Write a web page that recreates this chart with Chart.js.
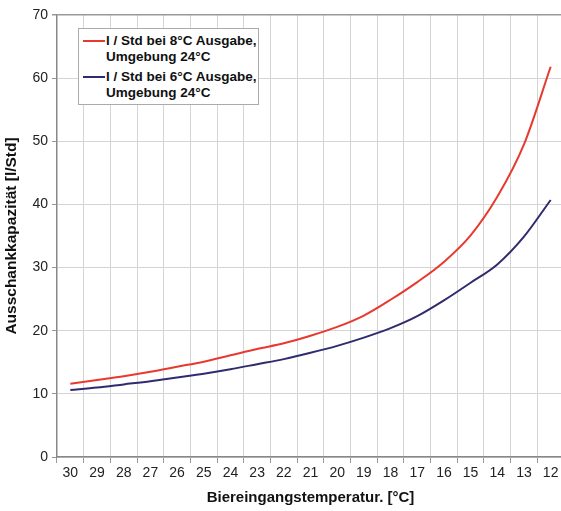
<!DOCTYPE html>
<html>
<head>
<meta charset="utf-8">
<script src="https://cdn.jsdelivr.net/npm/chart.js@4.4.1/dist/chart.umd.min.js"></script>
<style>
  body { margin: 0; background: #fff; overflow: hidden; }
  #wrap { position: relative; width: 561px; height: 511px; overflow: hidden; }
  #legend {
    position: absolute; left: 78px; top: 28px; width: 179px;
    background: #fff; border: 1px solid #aaa;
    font-family: "Liberation Sans", Arial, sans-serif; font-weight: bold;
    font-size: 13.5px; line-height: 16px; color: #111; padding: 3px 0 3px 0;
  }
  #legend .item { position: relative; padding-left: 27px; margin: 1px 0 4px 0; white-space: nowrap; }
  #legend .item:last-child { margin-bottom: 0; }
  #legend .sw { position: absolute; left: 4px; top: 7px; width: 22px; height: 2px; }
</style>
</head>
<body>
<div id="wrap">
  <canvas id="c" width="564" height="511"></canvas>
  <div id="legend"></div>
</div>
<script>
// Biereingangstemperatur [°C]
var categories = ['30','29','28','27','26','25','24','23','22','21','20','19','18','17','16','15','14','13','12'];
// l / Std bei 8°C Ausgabe
var ausgabe8 = [11.6, 12.2, 12.8, 13.5, 14.3, 15.1, 16.1, 17.1, 18.0, 19.2, 20.6, 22.4, 24.9, 27.7, 30.9, 35.1, 41.2, 49.5, 61.8];
// l / Std bei 6°C Ausgabe
var ausgabe6 = [10.6, 11.0, 11.5, 12.0, 12.6, 13.2, 13.9, 14.7, 15.5, 16.5, 17.6, 18.9, 20.4, 22.3, 24.8, 27.6, 30.5, 34.9, 40.7];
var seriesLabels = [
  ['l / Std bei 8°C Ausgabe,', 'Umgebung 24°C'],
  ['l / Std bei 6°C Ausgabe,', 'Umgebung 24°C']
];
var seriesColors = ['#e8392f', '#2f2b6e'];

var fontFam = '"Liberation Sans", Arial, sans-serif';

var ctx = document.getElementById('c').getContext('2d');
var chart = new Chart(ctx, {
  type: 'line',
  data: {
    labels: categories,
    datasets: [
      { label: seriesLabels[0].join(' '), data: ausgabe8, borderColor: seriesColors[0], borderWidth: 2, pointRadius: 0, cubicInterpolationMode: 'monotone', fill: false },
      { label: seriesLabels[1].join(' '), data: ausgabe6, borderColor: seriesColors[1], borderWidth: 2, pointRadius: 0, cubicInterpolationMode: 'monotone', fill: false }
    ]
  },
  options: {
    responsive: false,
    animation: false,
    layout: { padding: { top: 15, right: 0, left: 0, bottom: 0 } },
    plugins: { legend: { display: false }, tooltip: { enabled: false } },
    scales: {
      x: {
        offset: true,
        grid: { offset: true, color: '#d4d4d4', tickLength: 6, tickColor: '#999' },
        border: { color: '#888', width: 1.5 },
        ticks: { color: '#222', font: { family: fontFam, size: 14 }, padding: 2, maxRotation: 0, autoSkip: false },
        title: { display: true, text: 'Biereingangstemperatur. [°C]', color: '#111', font: { family: fontFam, size: 15, weight: 'bold' }, padding: { top: 3, bottom: 4 } },
        afterFit: function(s) { s.height = 54; }
      },
      y: {
        min: 0, max: 70,
        ticks: { stepSize: 10, color: '#222', font: { family: fontFam, size: 14 }, padding: 4 },
        grid: {
          color: function(c) { return c.tick && c.tick.value === 70 ? '#999' : '#d4d4d4'; },
          lineWidth: function(c) { return c.tick && c.tick.value === 70 ? 1.5 : 1; },
          tickLength: 5, tickColor: '#999'
        },
        border: { color: '#888', width: 1.5 },
        title: { display: true, text: 'Ausschankkapazität [l/Std]', color: '#111', font: { family: fontFam, size: 15.5, weight: 'bold' }, padding: { top: 2, bottom: 0 } },
        afterFit: function(s) { s.width = 57; }
      }
    }
  }
});

// legend box inside plot
var lg = document.getElementById('legend');
chart.data.datasets.forEach(function(ds, i) {
  var item = document.createElement('div');
  item.className = 'item';
  item.innerHTML = '<span class="sw" style="background:' + ds.borderColor + '"></span>' + seriesLabels[i].join('<br>');
  lg.appendChild(item);
});
</script>
</body>
</html>
